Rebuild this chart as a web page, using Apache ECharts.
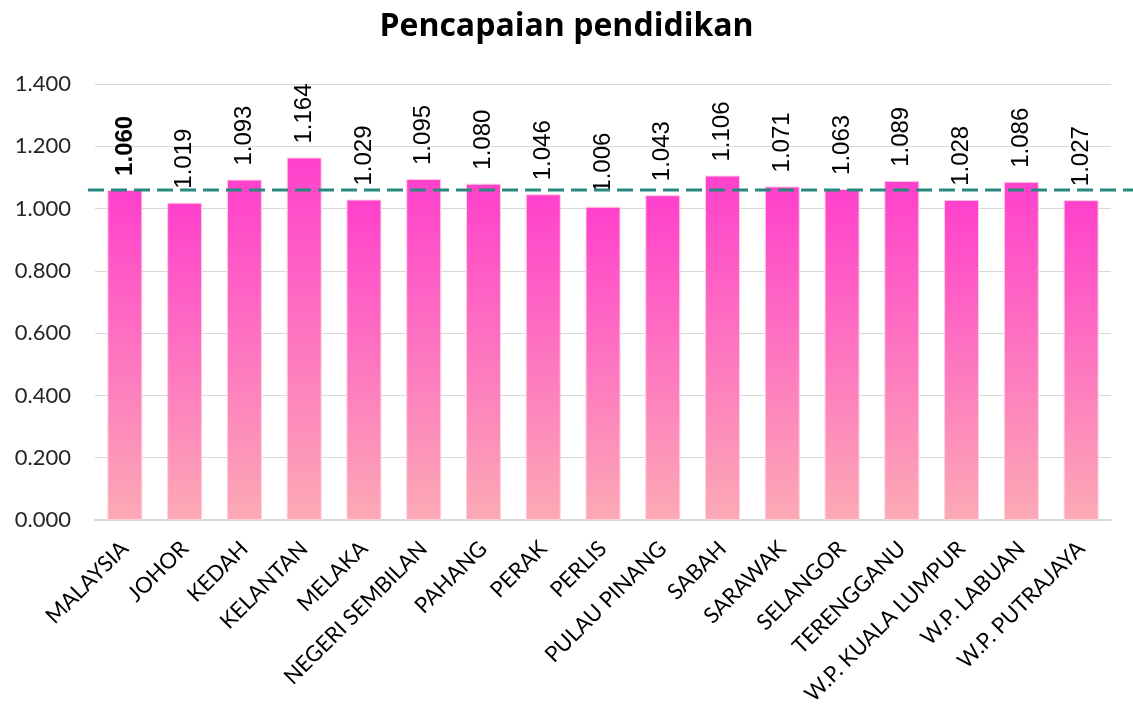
<!DOCTYPE html>
<html>
<head>
<meta charset="utf-8">
<script src="https://cdn.jsdelivr.net/npm/echarts@6/dist/echarts.min.js"></script>
<style>html,body{margin:0;padding:0;background:#fff}#c{width:1133px;height:704px}</style>
</head>
<body>
<div id="c"></div>
<script>
const categories = ['MALAYSIA','JOHOR','KEDAH','KELANTAN','MELAKA','NEGERI SEMBILAN','PAHANG','PERAK','PERLIS','PULAU PINANG','SABAH','SARAWAK','SELANGOR','TERENGGANU','W.P. KUALA LUMPUR','W.P. LABUAN','W.P. PUTRAJAYA'];
const values = [1.060,1.019,1.093,1.164,1.029,1.095,1.080,1.046,1.006,1.043,1.106,1.071,1.063,1.089,1.028,1.086,1.027];
const referenceValue = 1.060;
const yTicks = {min: 0, max: 1.4, interval: 0.2};

const chart = echarts.init(document.getElementById('c'));
chart.setOption({
  animation: false,
  title: {
    text: 'Pencapaian pendidikan',
    left: 'center', top: 6,
    textStyle: {fontFamily: 'Open Sans', fontWeight: 'bold', fontSize: 32, color: '#000'}
  },
  grid: [
    {left: 95, right: 22, top: 84, bottom: 184, outerBoundsMode: 'none', containLabel: false},
    {left: 88, right: 0, top: 84, bottom: 184, outerBoundsMode: 'none', containLabel: false}
  ],
  xAxis: [
    {
      type: 'category', data: categories, gridIndex: 0,
      axisLine: {lineStyle: {color: '#d9d9d9', width: 2}},
      axisTick: {show: false},
      axisLabel: {rotate: 45, interval: 0, margin: 25, fontFamily: 'Lato', fontSize: 22, color: '#000'}
    },
    {type: 'value', gridIndex: 1, min: 0, max: 1, show: false}
  ],
  yAxis: [
    {
      type: 'value', gridIndex: 0, min: yTicks.min, max: yTicks.max, interval: yTicks.interval,
      axisLine: {show: false}, axisTick: {show: false},
      splitLine: {lineStyle: {color: '#d9d9d9', width: 1}},
      axisLabel: {margin: 24, fontFamily: 'Lato', fontSize: 22, color: '#262626', formatter: v => v.toFixed(3)}
    },
    {type: 'value', gridIndex: 1, min: yTicks.min, max: yTicks.max, show: false}
  ],
  series: [
    {
      type: 'bar', xAxisIndex: 0, yAxisIndex: 0,
      barWidth: 35,
      data: values.map((v, i) => i === 0 ? {value: v, label: {fontWeight: 'bold'}} : v),
      itemStyle: {
        color: new echarts.graphic.LinearGradient(0, 0, 0, 1, [
          {offset: 0, color: '#ff40cc'},
          {offset: 1, color: '#fcaab4'}
        ]),
        borderColor: '#ffd0e2', borderWidth: 1
      },
      label: {
        show: true, position: 'top', rotate: 90, align: 'left', verticalAlign: 'middle',
        distance: 14, fontFamily: 'Liberation Sans', fontSize: 24, color: '#000',
        formatter: p => p.value.toFixed(3)
      },
      z: 2
    },
    {
      type: 'line', xAxisIndex: 1, yAxisIndex: 1,
      data: [[0, referenceValue], [1, referenceValue]],
      symbol: 'none',
      lineStyle: {color: '#26887f', width: 3, type: [16, 7]},
      z: 3, silent: true
    }
  ]
});
</script>
</body>
</html>
